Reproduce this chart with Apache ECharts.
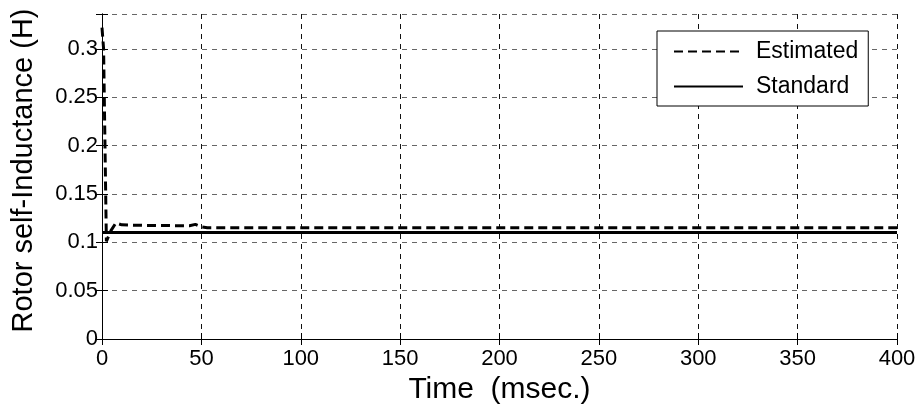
<!DOCTYPE html>
<html>
<head>
<meta charset="utf-8">
<script src="https://cdn.jsdelivr.net/npm/echarts@6/dist/echarts.min.js"></script>
<style>
  html, body { margin: 0; padding: 0; background: #fff; }
  #chart { width: 923px; height: 410px; }
</style>
</head>
<body>
<div id="chart"></div>
<script>
// Time axis (ms) and rotor self-inductance (H)
const estTime = [0, 0.8, 2.2, 4.5, 7, 10, 20, 35, 44, 47, 50, 53, 400];
const estValues = [0.322, 0.30, 0.101, 0.112, 0.12, 0.118, 0.1175, 0.1172, 0.117, 0.1185, 0.116, 0.115, 0.115];
const stdTime = [0, 400];
const stdValues = [0.11, 0.11];
const xTicks = [0, 50, 100, 150, 200, 250, 300, 350, 400];
const yTicks = [0, 0.05, 0.1, 0.15, 0.2, 0.25, 0.3];
const seriesNames = ['Estimated', 'Standard'];

const FONT = '"Liberation Sans", Arial, sans-serif';
const zip = (xs, ys) => xs.map((x, i) => [x, ys[i]]);

const xBase = {
  type: 'value', min: xTicks[0], max: xTicks[xTicks.length - 1], interval: 50,
  axisLine: { lineStyle: { color: '#000', width: 1 } },
  axisTick: { inside: true, length: 6, lineStyle: { color: '#000' } }
};
const yBase = {
  type: 'value', min: 0, max: 0.336, interval: 0.05,
  axisLine: { show: true, lineStyle: { color: '#000', width: 1 } },
  axisTick: { show: true, inside: true, length: 6, lineStyle: { color: '#000' } }
};

const chart = echarts.init(document.getElementById('chart'), null, { renderer: 'canvas' });
chart.setOption({
  animation: false,
  backgroundColor: '#fff',
  grid: { left: 102, right: 26, top: 14, bottom: 71 },
  legend: {
    data: seriesNames,
    orient: 'vertical',
    left: 657, top: 31,
    padding: [9, 10, 8, 16],
    itemGap: 12,
    itemWidth: 69, itemHeight: 14,
    backgroundColor: '#fff',
    borderColor: '#000', borderWidth: 1,
    itemStyle: { opacity: 0 },
    textStyle: { fontFamily: FONT, fontSize: 23, color: '#000', padding: [0, 0, 0, 8] }
  },
  xAxis: [
    Object.assign({}, xBase, {
      position: 'bottom',
      name: 'Time  (msec.)', nameLocation: 'middle', nameGap: 34,
      nameTextStyle: { fontFamily: FONT, fontSize: 30, color: '#000' },
      axisLabel: { margin: 9, fontFamily: FONT, fontSize: 22, color: '#000' },
      splitLine: { show: true, lineStyle: { color: '#111', type: [5, 5], width: 1 } }
    }),
    Object.assign({}, xBase, {
      position: 'top', axisLabel: { show: false }, splitLine: { show: false }
    })
  ],
  yAxis: [
    Object.assign({}, yBase, {
      position: 'left',
      name: 'Rotor self-Inductance (H)', nameLocation: 'middle', nameGap: 64,
      nameTextStyle: { fontFamily: FONT, fontSize: 29, color: '#000', padding: [0, 0, 0, 12] },
      axisLabel: {
        margin: 4, fontFamily: FONT, fontSize: 22, color: '#000',
        formatter: v => yTicks.some(t => Math.abs(t - v) < 1e-9) ? String(+v.toFixed(2)) : ''
      },
      splitLine: { show: true, lineStyle: { color: '#666', type: [5, 5], width: 1 } }
    }),
    Object.assign({}, yBase, {
      position: 'right', axisLabel: { show: false }, splitLine: { show: false }
    })
  ],
  series: [
    {
      name: seriesNames[0], type: 'line', symbol: 'none',
      data: zip(estTime, estValues),
      lineStyle: { color: '#000', width: 3, type: [9, 5] },
      itemStyle: { color: '#000' }, z: 3
    },
    {
      name: seriesNames[1], type: 'line', symbol: 'none',
      data: zip(stdTime, stdValues),
      lineStyle: { color: '#000', width: 3, type: 'solid' },
      itemStyle: { color: '#000' }, z: 2
    }
  ]
});
</script>
</body>
</html>
